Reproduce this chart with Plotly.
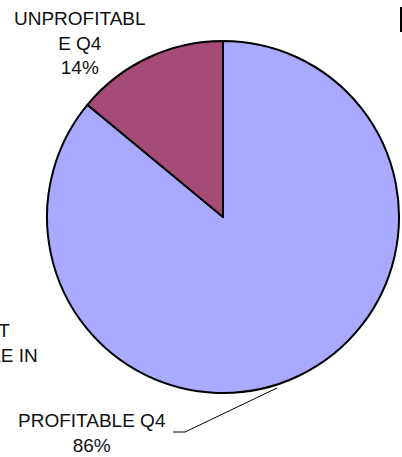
import plotly.graph_objects as go

# ---- data ----
categories = ["PROFITABLE Q4", "UNPROFITABLE Q4"]
values = [86, 14]
slice_colors = ["#A9A9FF", "#A64A76"]

# label texts (as wrapped in the original chart)
label_profit = "PROFITABLE Q4<br>86%"
label_unprofit = "UNPROFITABL<br>E Q4<br>14%"
label_clipped = "NOT<br>STABLE IN"

W, H = 402, 457


def px(x):
    return x / W


def py(y):
    return 1 - y / H


cx, cy, r = 223, 217, 176

fig = go.Figure(
    go.Pie(
        labels=categories,
        values=values,
        sort=False,
        direction="clockwise",
        rotation=0,
        marker=dict(colors=slice_colors, line=dict(color="black", width=2)),
        textinfo="none",
        hoverinfo="label+percent",
        domain=dict(x=[px(cx - r), px(cx + r)], y=[py(cy + r), py(cy - r)]),
        showlegend=False,
    )
)

font = dict(family="Liberation Sans, Arial, sans-serif", size=19, color="#111111")

fig.add_annotation(x=px(80), y=py(42.5), xref="paper", yref="paper", text=label_unprofit,
                   showarrow=False, font=font, align="center", xanchor="center", yanchor="middle")
fig.add_annotation(x=px(92), y=py(432.5), xref="paper", yref="paper", text=label_profit,
                   showarrow=False, font=font, align="center", xanchor="center", yanchor="middle")
fig.add_annotation(x=px(-10), y=py(342.5), xref="paper", yref="paper", text=label_clipped,
                   showarrow=False, font=font, align="center", xanchor="center", yanchor="middle")

# leader line for the PROFITABLE label
fig.add_shape(type="path", xref="paper", yref="paper",
              path=f"M {px(277)},{py(388)} L {px(185)},{py(432)} L {px(173)},{py(432)}",
              line=dict(color="black", width=1))
# fragment of a border at the top-right edge
fig.add_shape(type="line", xref="paper", yref="paper",
              x0=px(401), x1=px(401), y0=py(7), y1=py(32),
              line=dict(color="black", width=2))

fig.update_layout(
    width=W, height=H,
    margin=dict(l=0, r=0, t=0, b=0),
    paper_bgcolor="white", plot_bgcolor="white",
)

fig.write_html(
    "out.html",
    config={"displayModeBar": False},
    post_script="document.body.style.margin='0';document.body.style.overflow='hidden';",
)
